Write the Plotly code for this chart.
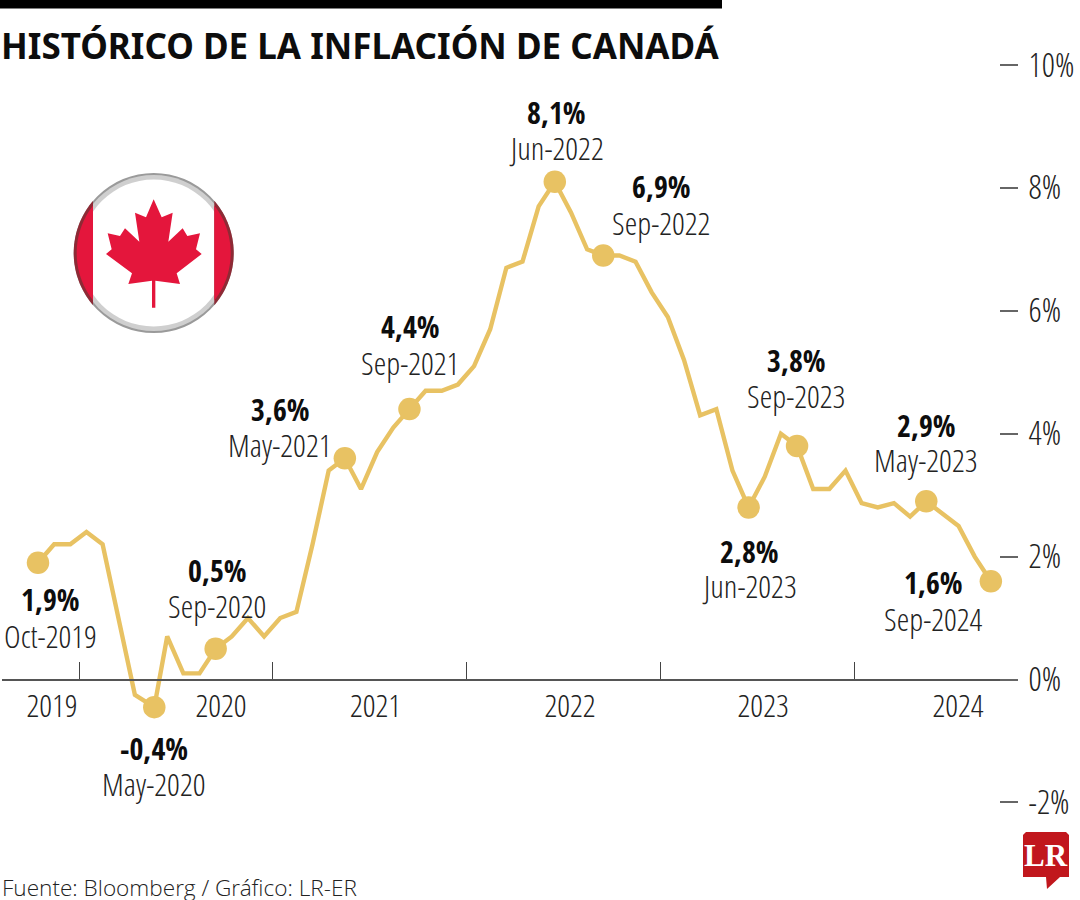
import math
import plotly.graph_objects as go

W, H = 1080, 900

months = [
    "Oct-2019", "Nov-2019", "Dec-2019",
    "Jan-2020", "Feb-2020", "Mar-2020", "Apr-2020", "May-2020", "Jun-2020",
    "Jul-2020", "Aug-2020", "Sep-2020", "Oct-2020", "Nov-2020", "Dec-2020",
    "Jan-2021", "Feb-2021", "Mar-2021", "Apr-2021", "May-2021", "Jun-2021",
    "Jul-2021", "Aug-2021", "Sep-2021", "Oct-2021", "Nov-2021", "Dec-2021",
    "Jan-2022", "Feb-2022", "Mar-2022", "Apr-2022", "May-2022", "Jun-2022",
    "Jul-2022", "Aug-2022", "Sep-2022", "Oct-2022", "Nov-2022", "Dec-2022",
    "Jan-2023", "Feb-2023", "Mar-2023", "Apr-2023", "May-2023", "Jun-2023",
    "Jul-2023", "Aug-2023", "Sep-2023", "Oct-2023", "Nov-2023", "Dec-2023",
    "Jan-2024", "Feb-2024", "Mar-2024", "Apr-2024", "May-2024", "Jun-2024",
    "Jul-2024", "Aug-2024", "Sep-2024",
]
inflation = [
    1.9, 2.2, 2.2,
    2.4, 2.2, 0.95, -0.25, -0.45, 0.7, 0.1, 0.1, 0.5, 0.7, 1.0, 0.7,
    1.0, 1.1, 2.2, 3.4, 3.6, 3.1, 3.7, 4.1, 4.4, 4.7, 4.7, 4.8,
    5.1, 5.7, 6.7, 6.8, 7.7, 8.1, 7.6, 7.0, 6.9, 6.9, 6.8, 6.3,
    5.9, 5.2, 4.3, 4.4, 3.4, 2.8, 3.3, 4.0, 3.8, 3.1, 3.1, 3.4,
    2.87, 2.8, 2.87, 2.65, 2.9, 2.7, 2.5, 2.0, 1.6,
]

# highlighted points
callout_months = ["Oct-2019", "May-2020", "Sep-2020", "May-2021", "Sep-2021", "Jun-2022",
                  "Sep-2022", "Jun-2023", "Sep-2023", "May-2024", "Sep-2024"]
callout_values = ["1,9%", "-0,4%", "0,5%", "3,6%", "4,4%", "8,1%",
                  "6,9%", "2,8%", "3,8%", "2,9%", "1,6%"]
callout_dates = ["Oct-2019", "May-2020", "Sep-2020", "May-2021", "Sep-2021", "Jun-2022",
                 "Sep-2022", "Jun-2023", "Sep-2023", "May-2023", "Sep-2024"]
# label centres in page pixels: x, y of value line, y of date line
label_x = [50, 154, 217, 280, 410, 556, 661, 749, 796, 926, 933]
label_y1 = [599, 748, 570, 410, 327, 113, 186, 551, 360, 425, 582]
label_y2 = [635, 783, 605, 444, 362, 148, 222, 585, 395, 459, 618]

year_labels = ["2019", "2020", "2021", "2022", "2023", "2024"]
year_label_pos = [0.87, 11.33, 20.9, 32.94, 44.9, 56.97]
year_ticks = [2.6, 14.55, 26.55, 38.55, 50.55]
y_ticks = [-2, 0, 2, 4, 6, 8, 10]
y_ticktext = ["-2%", "0%", "2%", "4%", "6%", "8%", "10%"]

GOLD = "#E8C263"
LIGHT = dict(family="Open Sans Condensed Light", size=32, color="#222222")
HEAVY = dict(family="Open Sans Condensed", size=30, color="#0d0d0d")

x_index = [float(i) for i in range(len(months))]
x_index[7] = 7.2  # the May-2020 dot sits a little late on the reference's time scale
call_idx = [months.index(m) for m in callout_months]


def fx(px):
    return px / W


def fy(py):
    return 1 - py / H


def poly(points):
    return "M" + " L".join(f"{fx(x):.5f},{fy(y):.5f}" for x, y in points) + " Z"


def circle(cx, cy, r, fill):
    return dict(type="circle", xref="paper", yref="paper", layer="above",
                x0=fx(cx - r), x1=fx(cx + r), y0=fy(cy + r), y1=fy(cy - r),
                fillcolor=fill, line=dict(width=0))


def segment(cx, cy, r, edge_x, side, fill):
    # circular segment outside a vertical chord
    a0 = math.acos(min(1, (edge_x - cx) * side / r))
    pts = []
    for k in range(41):
        a = -a0 + 2 * a0 * k / 40
        pts.append((cx + side * r * math.cos(a), cy + r * math.sin(a)))
    return dict(type="path", xref="paper", yref="paper", layer="above", path=poly(pts),
                fillcolor=fill, line=dict(width=0))


CX, CY = 153.7, 253
shapes = [
    dict(type="rect", xref="paper", yref="paper", x0=0, x1=fx(722), y0=fy(8.5), y1=1,
         fillcolor="#000000", line=dict(width=0)),
    circle(CX, CY, 80, "#9a9a9a"),
    circle(CX, CY, 78, "#cfcfcf"),
    circle(CX, CY, 73.5, "#ffffff"),
    segment(CX, CY, 80, 93, -1, "#8e2a35"),
    segment(CX, CY, 80, 214.3, 1, "#8e2a35"),
    segment(CX, CY, 77, 93, -1, "#E4163C"),
    segment(CX, CY, 77, 214.3, 1, "#E4163C"),
]

leaf_zoom = [(281, 118), (305, 172), (338, 158), (325, 245), (368, 205), (382, 228), (420, 220),
             (408, 268), (425, 282), (350, 340), (360, 372), (286, 362), (286, 443), (276, 443),
             (276, 362), (205, 372), (216, 340), (138, 282), (155, 268), (143, 220), (180, 228),
             (195, 205), (238, 245), (225, 158), (258, 172)]
leaf = [(60 + a / 3, 160 + b / 3) for a, b in leaf_zoom]
shapes.append(dict(type="path", xref="paper", yref="paper", layer="above", path=poly(leaf),
                   fillcolor="#E4163C", line=dict(width=0)))

logo = [(1026, 832), (1066, 832), (1069, 835), (1069, 877), (1060, 877), (1047, 889),
        (1046, 877), (1023, 877), (1023, 835)]
shapes.append(dict(type="path", xref="paper", yref="paper", path=poly(logo),
                   fillcolor="#C1171D", line=dict(width=0)))

annotations = [
    dict(text="<b>HISTÓRICO DE LA INFLACIÓN DE CANADÁ</b>", xref="paper", yref="paper",
         x=fx(-1), y=fy(45), xanchor="left", yanchor="middle", showarrow=False,
         font=dict(family="Noto Sans", size=35, color="#0d0d0d")),
    dict(text="Fuente: Bloomberg / Gráfico: LR-ER", xref="paper", yref="paper",
         x=fx(0), y=fy(887), xanchor="left", yanchor="middle", showarrow=False,
         font=dict(family="Open Sans Light", size=22.6, color="#222222")),
    dict(text="<b>LR</b>", xref="paper", yref="paper", x=fx(1046), y=fy(855),
         xanchor="center", yanchor="middle", showarrow=False,
         font=dict(family="Liberation Serif", size=31, color="#ffffff")),
]
for value, date, lx, y1, y2 in zip(callout_values, callout_dates, label_x, label_y1, label_y2):
    annotations.append(dict(text=value, xref="paper", yref="paper", x=fx(lx), y=fy(y1),
                            xanchor="center", yanchor="middle", showarrow=False, font=HEAVY))
    annotations.append(dict(text=date, xref="paper", yref="paper", x=fx(lx), y=fy(y2),
                            xanchor="center", yanchor="middle", showarrow=False, font=LIGHT))

fig = go.Figure()
fig.add_trace(go.Scatter(x=x_index, y=inflation, mode="lines", text=months,
                         line=dict(color=GOLD, width=4.4, shape="linear"),
                         hovertemplate="%{text}: %{y}%<extra></extra>"))
fig.add_trace(go.Scatter(x=[x_index[i] for i in call_idx], y=[inflation[i] for i in call_idx],
                         mode="markers", marker=dict(color=GOLD, size=22.5, line=dict(width=0)),
                         hoverinfo="skip"))

x_px0, x_px1 = 2, 1016
x_step = 16.15
y_step = 61.45
y_zero_px = 679.5
fig.update_layout(
    width=W, height=H, autosize=False, showlegend=False,
    margin=dict(l=0, r=0, t=0, b=0, pad=0, autoexpand=False),
    paper_bgcolor="#ffffff", plot_bgcolor="#ffffff",
    shapes=shapes, annotations=annotations,
    xaxis=dict(
        domain=[fx(x_px0), fx(x_px1)],
        range=[(x_px0 - 38) / x_step, (x_px1 - 38) / x_step],
        anchor="free", position=1 - y_zero_px / H,
        showgrid=False, zeroline=False,
        showline=True, linecolor="#555555", linewidth=1.5,
        tickmode="array", tickvals=year_label_pos, ticktext=year_labels, ticks="",
        ticklabelstandoff=-2,
        tickfont=LIGHT,
        minor=dict(tickmode="array", tickvals=year_ticks, ticks="inside", ticklen=17,
                   tickcolor="#444444", tickwidth=1, showgrid=False),
    ),
    yaxis=dict(
        domain=[0, 1],
        range=[(y_zero_px - H) / y_step, y_zero_px / y_step],
        anchor="free", position=fx(999), side="right",
        showgrid=False, zeroline=False, showline=False,
        tickmode="array", tickvals=y_ticks, ticktext=y_ticktext,
        ticks="outside", ticklen=18, tickwidth=1.5, tickcolor="#666666",
        ticklabelstandoff=4,
        tickfont=dict(family="Open Sans Condensed Light", size=33, color="#222222"),
    ),
)

fig.write_html("out.html", config=dict(displayModeBar=False),
               post_script="document.body.style.margin='0';document.body.style.overflow='hidden';")
